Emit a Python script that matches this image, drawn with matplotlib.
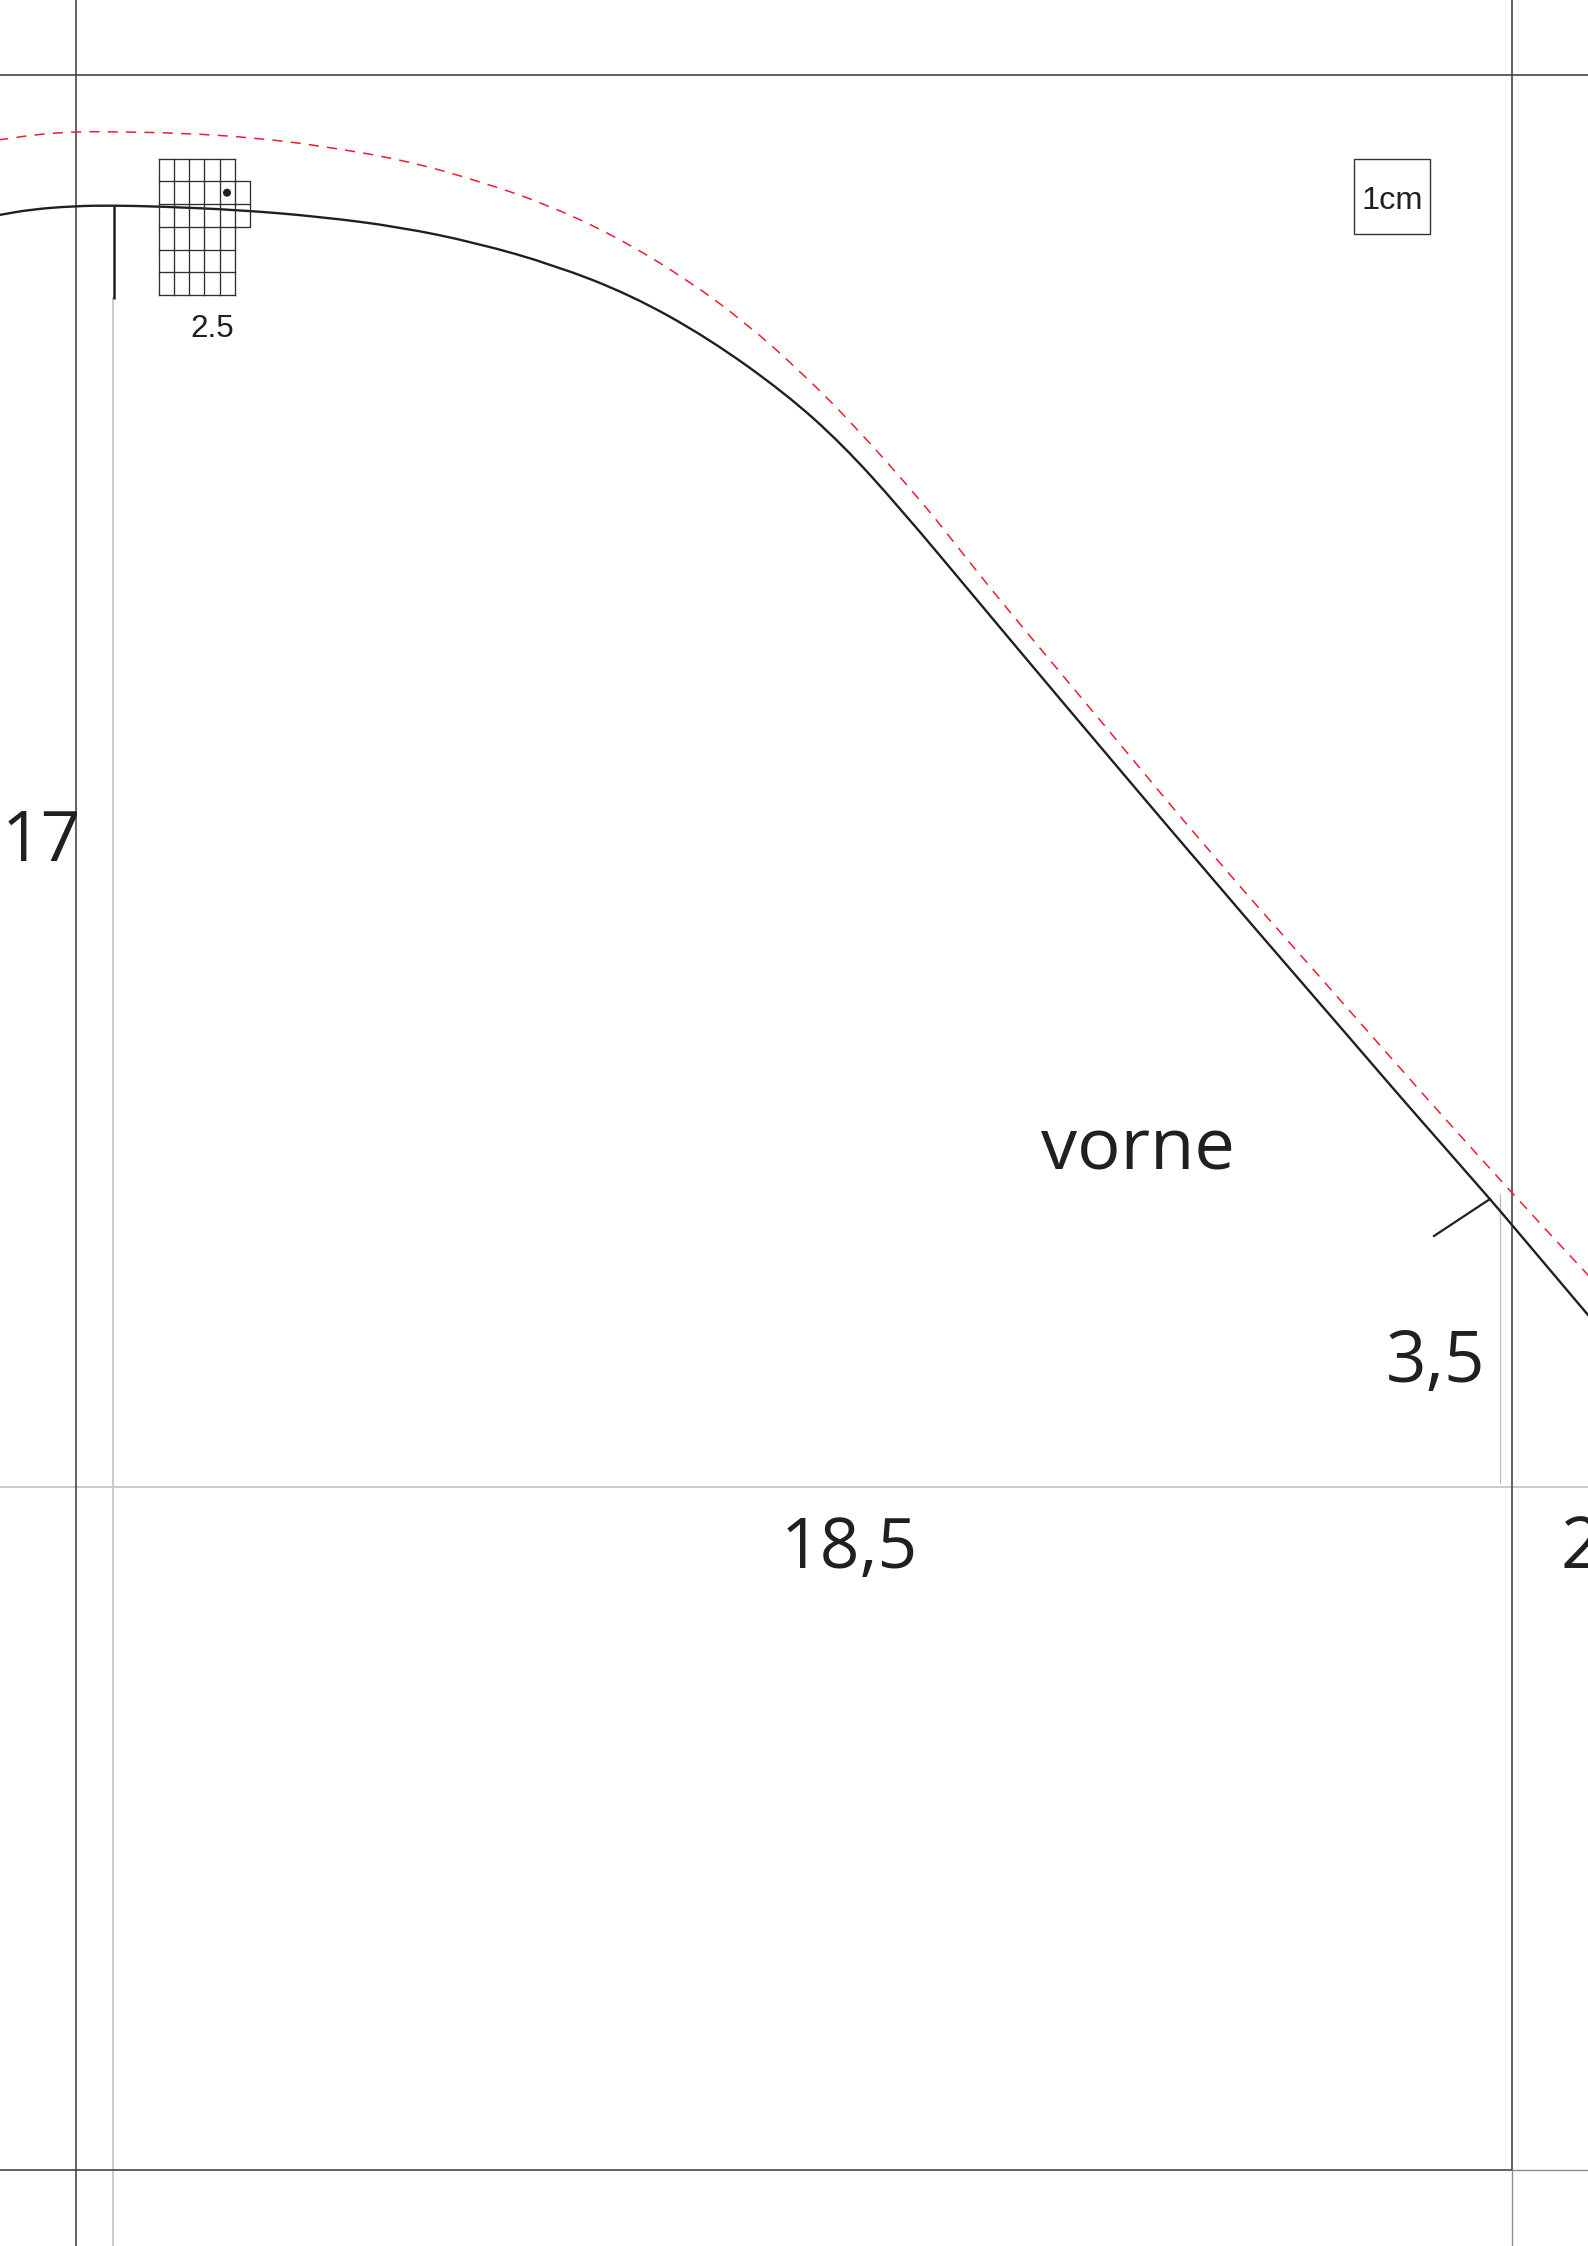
import matplotlib
matplotlib.use("Agg")
import matplotlib.pyplot as plt
from matplotlib.path import Path
from matplotlib.patches import PathPatch, Rectangle, Circle

W, H = 1588, 2246

solid_x = [-20, 0, 30, 75, 113, 160, 240, 320, 400, 477, 554, 631, 708, 785, 842, 900, 977, 1054, 1208, 1361, 1403, 1490, 1512, 1610]
solid_y = [218, 215, 209.5, 206, 205.5, 206.5, 210, 216.7, 227, 243, 265, 295, 338, 393, 444, 508, 600, 692, 874, 1051, 1100, 1199, 1225, 1341]

red_x = [-20, 0, 35, 75, 107, 183, 257, 320, 404, 477, 546, 615, 685, 746, 800, 854, 923, 960, 1003, 1100, 1212, 1320, 1428, 1512, 1585, 1610]
red_y = [142, 140, 134.5, 131.7, 131.7, 133, 138, 145.7, 160, 180.5, 204, 236, 278, 323, 371, 425, 503, 550, 604, 720, 855, 977, 1100, 1193, 1272, 1298]

grid_xs = [158.7, 174, 189.3, 204.3, 219.7, 234.7]
grid_ys = [158.7, 181.3, 204, 227, 249.7, 272.3, 295]

labels = ["17", "18,5", "3,5", "2", "vorne"]
label_x = [2, 781, 1386, 1561, 1041]
label_y = [860.7, 1567.7, 1382, 1567.7, 1169]
label_size = [50, 50, 51, 51, 52]

INK = "#231f20"
DARK = "#404040"
GREY = "#c6c6c6"
MID = "#8c8c8c"
RED = "#ed1c2e"


def smooth(xs, ys):
    verts = [(xs[0], ys[0])]
    codes = [Path.MOVETO]
    for i in range(1, len(xs) - 1):
        mx, my = (xs[i] + xs[i + 1]) / 2, (ys[i] + ys[i + 1]) / 2
        verts += [(xs[i], ys[i]), (mx, my)]
        codes += [Path.CURVE3, Path.CURVE3]
    verts.append((xs[-1], ys[-1]))
    codes.append(Path.LINETO)
    return Path(verts, codes)


fig = plt.figure(figsize=(W / 100, H / 100), dpi=100, facecolor="white")
ax = fig.add_axes([0, 0, 1, 1])
ax.set_xlim(0, W)
ax.set_ylim(H, 0)
ax.axis("off")

# light construction lines
ax.plot([113.3, 113.3], [298, H], color=GREY, lw=1.3, zorder=1)
ax.plot([0, W], [1486.8, 1486.8], color=GREY, lw=1.3, zorder=1)
ax.plot([1500.3, 1500.3], [1194, 1483], color="#bdbdbd", lw=0.9, zorder=1)

# page frame
ax.plot([75.6, 75.6], [0, H], color=DARK, lw=1.15, zorder=2)
ax.plot([0, W], [75, 75], color=DARK, lw=1.15, zorder=2)
ax.plot([1512.3, 1512.3], [0, 2170], color=DARK, lw=1.15, zorder=2)
ax.plot([0, 1512], [2170.3, 2170.3], color=DARK, lw=1.15, zorder=2)
ax.plot([1512, 1512], [2170, H], color=MID, lw=1.0, zorder=2)
ax.plot([1512, W], [2170, 2170], color=MID, lw=1.0, zorder=2)

# pattern curves
ax.add_patch(PathPatch(smooth(solid_x, solid_y), fill=False, edgecolor=INK, lw=1.7, zorder=4))
ax.add_patch(PathPatch(smooth(red_x, red_y), fill=False, edgecolor=RED, lw=1.1, capstyle="butt",
                       linestyle=(0, (6.6, 5.4)), zorder=3))

# marks on the curve
ax.plot([113.5, 113.5], [206, 298.5], color=INK, lw=1.8, solid_capstyle="butt", zorder=4)
ax.plot([1490, 1434], [1199, 1236], color=INK, lw=1.6, zorder=4)

# grid symbol
GRID = "#2e2e2e"
for gx in grid_xs:
    ax.plot([gx, gx], [grid_ys[0], grid_ys[-1]], color=GRID, lw=0.95, zorder=5)
for gy in grid_ys:
    ax.plot([grid_xs[0], grid_xs[-1]], [gy, gy], color=GRID, lw=0.95, zorder=5)
ax.plot([234.7, 250, 250, 234.7], [181.3, 181.3, 227, 227], color=GRID, lw=0.95, zorder=5)
ax.plot([234.7, 250], [204, 204], color=GRID, lw=0.95, zorder=5)
ax.add_patch(Circle((227, 192.7), 4, facecolor=INK, edgecolor="none", zorder=6))
ax.text(190, 337, "2.5", family="Liberation Sans", fontsize=22.6, color=INK, ha="left", va="baseline", zorder=6)

# scale box
ax.add_patch(Rectangle((1353.6, 158.7), 76, 75.6, fill=False, edgecolor="#333333", lw=1.0, zorder=5))
ax.text(1392, 209, "1cm", family="Liberation Sans", fontsize=23.4, color=INK, ha="center", va="baseline", zorder=6)

# measurement labels
for s, x, y, fs in zip(labels, label_x, label_y, label_size):
    ax.text(x, y, s, family="Open Sans", fontsize=fs, color=INK, ha="left", va="baseline", zorder=6)

fig.savefig("out.png", dpi=100, facecolor="white")
